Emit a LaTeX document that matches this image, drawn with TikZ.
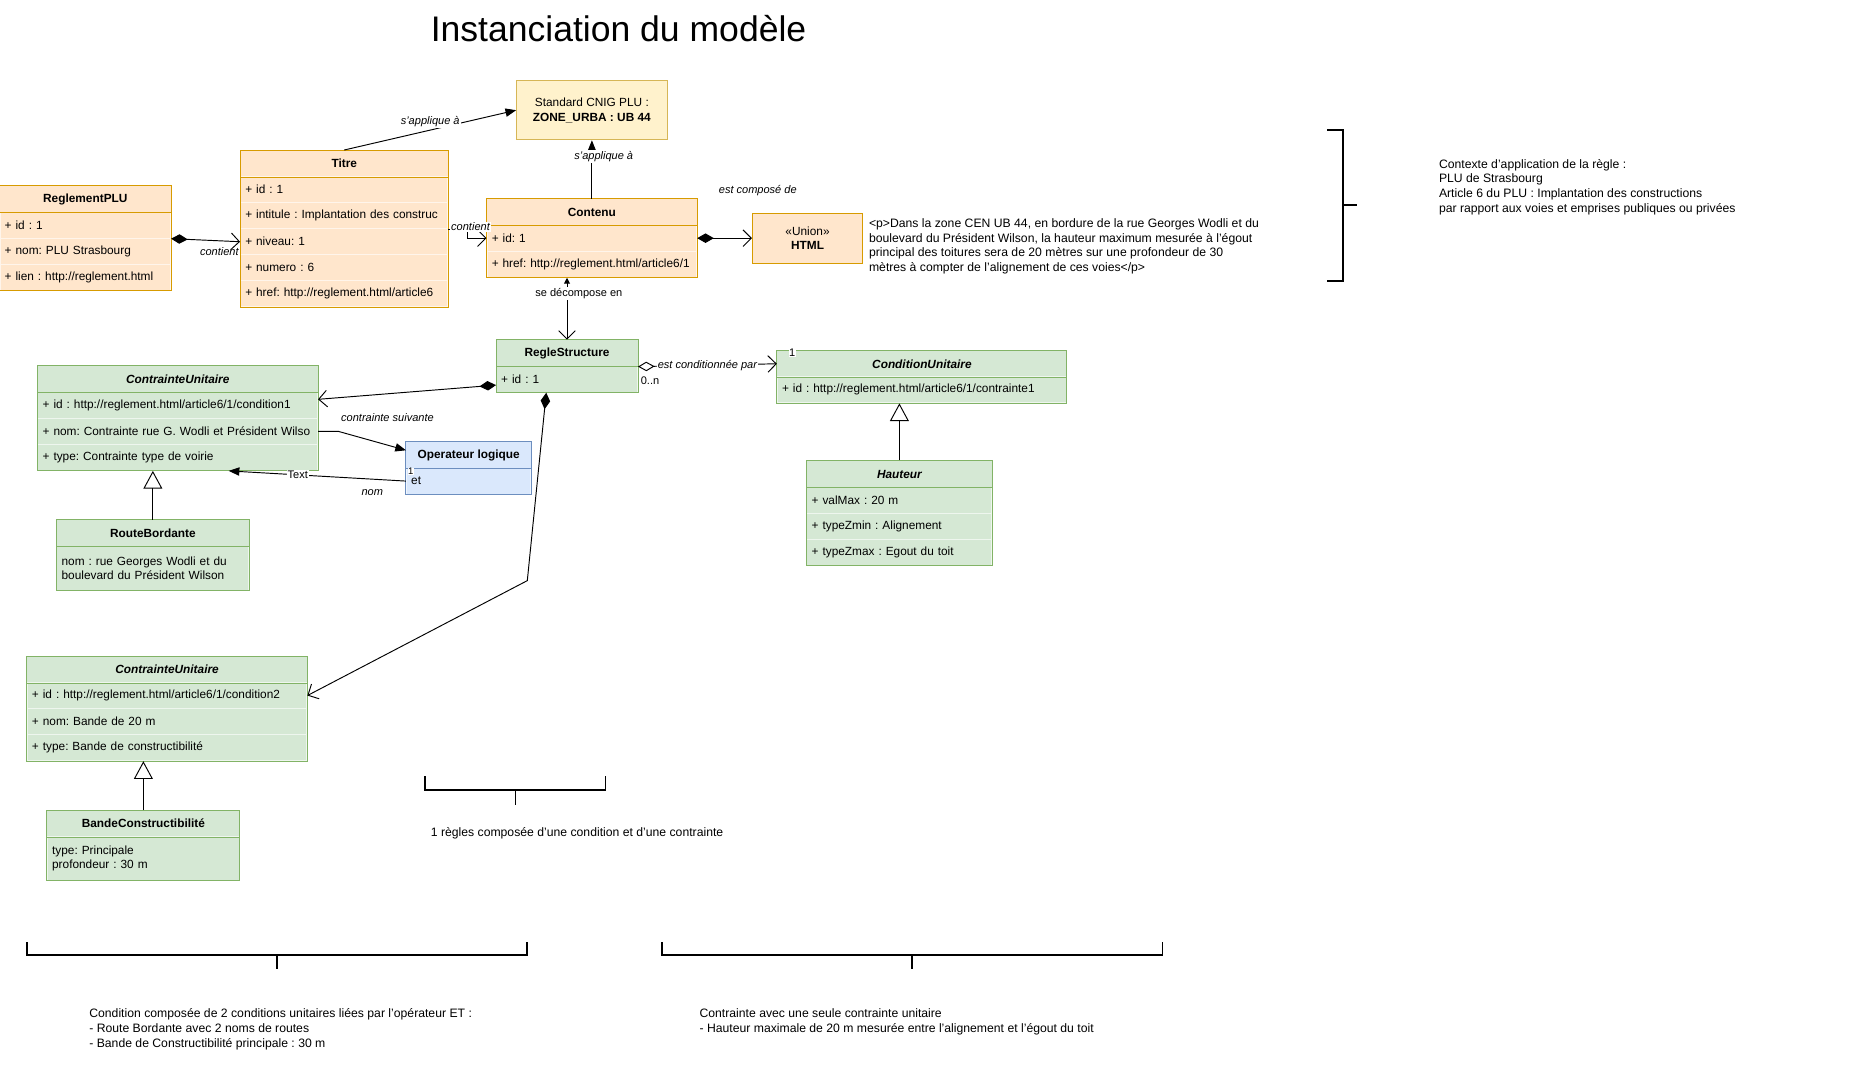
\documentclass[tikz,border=0pt]{standalone}
\usepackage{fontspec}
\setmainfont{Liberation Sans}
\usetikzlibrary{arrows.meta}
\frenchspacing

\definecolor{orangefill}{HTML}{FFE6CC}
\definecolor{orangeline}{HTML}{D79B00}
\definecolor{yellowfill}{HTML}{FFF2CC}
\definecolor{yellowline}{HTML}{D6B656}
\definecolor{greenfill}{HTML}{D5E8D4}
\definecolor{greenline}{HTML}{82B366}
\definecolor{bluefill}{HTML}{DAE8FC}
\definecolor{blueline}{HTML}{6C8EBF}

\tikzstyle{orangehead} = [
    rectangle,
    minimum height=22pt,
    inner sep=0pt,
    fill=orangefill,
    font=\bfseries
]
\tikzstyle{orangerow} = [
    rectangle,
    minimum height=22pt,
    inner xsep=4pt,
    inner ysep=0pt,
    align=left,
    fill=orangefill,
    draw=orangefill!40!white
]
\tikzstyle{greenhead} = [
    rectangle,
    minimum height=22pt,
    inner sep=0pt,
    fill=greenfill,
    font=\bfseries
]
\tikzstyle{greenrow} = [
    rectangle,
    minimum height=22pt,
    inner xsep=4pt,
    inner ysep=0pt,
    align=left,
    fill=greenfill,
    draw=greenfill!40!white
]
\tikzstyle{bluehead} = [
    rectangle,
    minimum height=22pt,
    inner sep=0pt,
    fill=bluefill,
    font=\bfseries
]
\tikzstyle{bluerow} = [
    rectangle,
    minimum height=22pt,
    inner xsep=4pt,
    inner ysep=0pt,
    align=left,
    fill=bluefill,
    draw=bluefill!40!white
]
\tikzstyle{abstract} = [font=\bfseries\itshape]
\tikzstyle{note} = [
    rectangle,
    align=center,
    fill=yellowfill,
    draw=yellowline
]
\tikzstyle{plaintext} = [align=left, inner sep=0pt, font=\fontsize{10.3}{12.4}\selectfont]
\tikzstyle{lbl} = [font=\fontsize{9.3}{11}\selectfont\itshape, fill=white, inner sep=1pt]
\tikzstyle{tag} = [font=\fontsize{9.3}{11}\selectfont, fill=white, inner sep=1pt]
\tikzstyle{arrow} = [-{Triangle[length=9pt,width=7pt]}]
\tikzstyle{openarrow} = [-{Straight Barb[length=7pt,width=14pt]}]
\tikzstyle{compose} = [{Diamond[length=14pt,width=8pt]}-{Straight Barb[length=7pt,width=14pt]}]
\tikzstyle{aggreg} = [{Diamond[open,length=14pt,width=8pt]}-{Straight Barb[length=7pt,width=14pt]}]
\tikzstyle{decomp} = [{Triangle[length=5pt,width=5pt]}-{Straight Barb[length=7pt,width=14pt]}]
\tikzstyle{inherit} = [-{Triangle[open,length=15pt,width=16pt]}]
\tikzstyle{brace} = [line width=1.6pt]

\begin{document}
\fontsize{10}{12.4}\selectfont
\begin{tikzpicture}[x=1pt, y=-1pt, node distance=22pt, line width=0.8pt]
\path [use as bounding box, fill=white] (0,0) rectangle (1568,904);

\node (title) [font=\fontsize{30}{36}\selectfont] at (522,24) {Instanciation du modèle};

% Reglement, Titre, Contenu
\node (reglement) [orangehead, minimum width=144pt] at (72,168) {ReglementPLU};
\node (reglement1) [orangerow, text width=136pt, below of=reglement] {+ id : 1};
\node (reglement2) [orangerow, text width=136pt, below of=reglement1] {+ nom: PLU Strasbourg};
\node (reglement3) [orangerow, text width=136pt, below of=reglement2] {+ lien : http://reglement.html};
\draw [orangeline] (reglement.north west) rectangle (reglement3.south east)
    (reglement.south west) -- (reglement.south east);

\node (titre) [orangehead, minimum width=175pt] at (290.5,138) {Titre};
\node (titre1) [orangerow, text width=167pt, below of=titre] {+ id : 1};
\node (titre2) [orangerow, text width=167pt, below of=titre1] {+ intitule : Implantation des construc};
\node (titre3) [orangerow, text width=167pt, below of=titre2] {+ niveau: 1};
\node (titre4) [orangerow, text width=167pt, below of=titre3] {+ numero : 6};
\node (titre5) [orangerow, text width=167pt, below of=titre4] {+ href: http://reglement.html/article6};
\draw [orangeline] (titre.north west) rectangle (titre5.south east)
    (titre.south west) -- (titre.south east);

\node (contenu) [orangehead, minimum width=177pt] at (499.5,179) {Contenu};
\node (contenu1) [orangerow, text width=169pt, below of=contenu] {+ id: 1};
\node (contenu2) [orangerow, text width=169pt, below of=contenu1] {+ href: http://reglement.html/article6/1};
\draw [orangeline] (contenu.north west) rectangle (contenu2.south east)
    (contenu.south west) -- (contenu.south east);

\node (cnig) [note, minimum width=127pt, minimum height=50pt] at (499.5,93)
    {Standard CNIG PLU :\\ \textbf{ZONE\_URBA : UB 44}};
\node (html) [note, fill=orangefill, draw=orangeline, minimum width=93pt, minimum height=42pt] at (681.5,201)
    {«Union»\\ \textbf{HTML}};
\node (htmltext) [plaintext, anchor=north west] at (733,184)
    {<p>Dans la zone CEN UB 44, en bordure de la rue Georges Wodli et du\\
     boulevard du Président Wilson, la hauteur maximum mesurée à l’égout\\
     principal des toitures sera de 20 mètres sur une profondeur de 30\\
     mètres à compter de l’alignement de ces voies</p>};

% context
\node (contexte) [plaintext, anchor=north west] at (1214,134)
    {Contexte d'application de la règle :\\
     PLU de Strasbourg\\
     Article 6 du PLU : Implantation des constructions\\
     par rapport aux voies et emprises publiques ou privées};
\draw [brace] (1120,110) -- (1133,110) -- (1133,237) -- (1120,237);
\draw [brace] (1133,173) -- (1145,173);

% Regle structure and conditions
\node (regle) [greenhead, minimum width=119pt] at (478.5,298) {RegleStructure};
\node (regle1) [greenrow, text width=111pt, below of=regle] {+ id : 1};
\draw [greenline] (regle.north west) rectangle (regle1.south east)
    (regle.south west) -- (regle.south east);

\node (condition) [greenhead, abstract, minimum width=244pt] at (778,307) {ConditionUnitaire};
\node (condition1) [greenrow, text width=236pt, below of=condition] {+ id : http://reglement.html/article6/1/contrainte1};
\draw [greenline] (condition.north west) rectangle (condition1.south east)
    (condition.south west) -- (condition.south east);

\node (hauteur) [greenhead, abstract, minimum width=156pt] at (759,400) {Hauteur};
\node (hauteur1) [greenrow, text width=148pt, below of=hauteur] {+ valMax : 20 m};
\node (hauteur2) [greenrow, text width=148pt, below of=hauteur1] {+ typeZmin : Alignement};
\node (hauteur3) [greenrow, text width=148pt, below of=hauteur2] {+ typeZmax : Egout du toit};
\draw [greenline] (hauteur.north west) rectangle (hauteur3.south east)
    (hauteur.south west) -- (hauteur.south east);

\node (voirie) [greenhead, abstract, minimum width=236pt] at (150,320) {ContrainteUnitaire};
\node (voirie1) [greenrow, text width=228pt, below of=voirie] {+ id : http://reglement.html/article6/1/condition1};
\node (voirie2) [greenrow, text width=228pt, below of=voirie1] {+ nom: Contrainte rue G. Wodli et Président Wilso};
\node (voirie3) [greenrow, text width=228pt, below of=voirie2] {+ type: Contrainte type de voirie};
\draw [greenline] (voirie.north west) rectangle (voirie3.south east)
    (voirie.south west) -- (voirie.south east);

\node (operateur) [bluehead, minimum width=105pt] at (395.5,384) {Operateur logique};
\node (operateur1) [bluerow, text width=97pt, below of=operateur] {et};
\draw [blueline] (operateur.north west) rectangle (operateur1.south east)
    (operateur.south west) -- (operateur.south east);
\node (opercard) [tag, font=\fontsize{8}{9}\selectfont, inner sep=0.3pt] at ([xshift=4pt, yshift=-3pt]operateur1.north west) {1};

\node (route) [greenhead, minimum width=162pt] at (129,450) {RouteBordante};
\node (route1) [greenrow, text width=154pt, minimum height=37pt, below of=route, node distance=29.5pt]
    {nom : rue Georges Wodli et du\\ boulevard du Président Wilson};
\draw [greenline] (route.north west) rectangle (route1.south east)
    (route.south west) -- (route.south east);

\node (bande) [greenhead, abstract, minimum width=236pt] at (141,565) {ContrainteUnitaire};
\node (bande1) [greenrow, text width=228pt, below of=bande] {+ id : http://reglement.html/article6/1/condition2};
\node (bande2) [greenrow, text width=228pt, below of=bande1] {+ nom: Bande de 20 m};
\node (bande3) [greenrow, text width=228pt, below of=bande2] {+ type: Bande de constructibilité};
\draw [greenline] (bande.north west) rectangle (bande3.south east)
    (bande.south west) -- (bande.south east);

\node (constr) [greenhead, minimum width=162pt] at (121,695) {BandeConstructibilité};
\node (constr1) [greenrow, text width=154pt, minimum height=37pt, below of=constr, node distance=29.5pt]
    {type: Principale\\ profondeur : 30 m};
\draw [greenline] (constr.north west) rectangle (constr1.south east)
    (constr.south west) -- (constr.south east);

% connectors
\draw [arrow] (titre.north) -- (cnig.west) node [lbl, pos=0.5, yshift=7pt] {s'applique à};
\draw [arrow] (contenu.north) -- (cnig.south) node [lbl, pos=0.72, xshift=10pt] {s'applique à};
\draw [compose] (reglement1.south east) -- (titre3.west) node [lbl, fill=none, pos=0.7, yshift=-9pt] {contient};
\draw [openarrow] (titre2.south east) node [lbl, anchor=west, xshift=1pt, yshift=2pt] {contient}
    -- ++(16,0) |- (contenu1.west);
\draw [compose] (contenu1.east) -- (html.west) node [lbl, fill=none, pos=0.5, xshift=28pt, yshift=40pt] {est composé de};
\draw [decomp] (contenu2.south -| regle.north) -- (regle.north) node [tag, pos=0.25, xshift=10pt] {se décompose en};
\draw [aggreg] (regle.south east) node [tag, fill=none, anchor=west, xshift=1pt, yshift=-12pt] {0..n}
    -- (condition.west) node [lbl, pos=0.5] {est conditionnée par}
    node [tag, inner sep=0.5pt, xshift=13pt, yshift=9pt] {1};
\draw [inherit] (hauteur.north) -- (hauteur.north |- condition1.south);
\draw [compose] ([yshift=-5pt]regle1.west) -- ([yshift=5pt]voirie1.east);
\draw [arrow] (voirie2.east) -- ++(17,0) -- ([yshift=4pt]operateur.west)
    node [lbl, fill=none, pos=0.5, xshift=13pt, yshift=20pt] {contrainte suivante};
\draw [arrow] (operateur1.west) -- ([xshift=43pt]voirie3.south)
    node [tag, pos=0.61] {Text}
    node [lbl, fill=none, pos=0.19, yshift=-11pt] {nom};
\draw [inherit] (route.north) -- (route.north |- voirie3.south);
\draw [compose] ([xshift=-17.5pt]regle1.south) -- (445,490) -- (bande1.east);
\draw [inherit] (constr.north) -- (constr.north |- bande3.south);

% summaries
\draw [brace] (359,655) -- (359,667) -- (511,667) -- (511,655);
\draw [brace] (435,667) -- (435,679);
\node (regleinfo) [plaintext] at (487,703) {1 règles composée d'une condition et d'une contrainte};

\draw [brace] (23,795) -- (23,806) -- (445,806) -- (445,795);
\draw [brace] (234,806) -- (234,818);
\node (conditioninfo) [plaintext, anchor=north west] at (75,851)
    {Condition composée de 2 conditions unitaires liées par l'opérateur ET :\\
     - Route Bordante avec 2 noms de routes\\
     - Bande de Constructibilité principale : 30 m};

\draw [brace] (559,795) -- (559,806) -- (981,806) -- (981,795);
\draw [brace] (770,806) -- (770,818);
\node (contrainteinfo) [plaintext, anchor=north west] at (590,851)
    {Contrainte avec une seule contrainte unitaire\\
     - Hauteur maximale de 20 m mesurée entre l'alignement et l'égout du toit};

\end{tikzpicture}
\end{document}
